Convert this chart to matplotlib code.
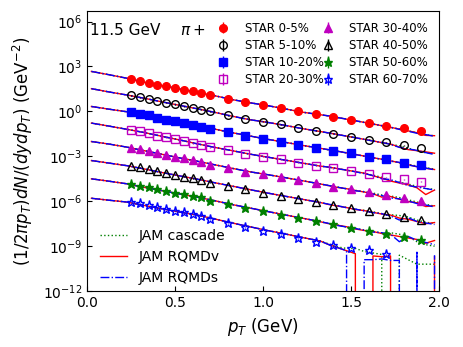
import numpy as np
import matplotlib
matplotlib.use('Agg')
import matplotlib.pyplot as plt
from matplotlib.ticker import NullLocator

# STAR pi+ spectra, Au+Au 11.5 GeV (values as log10)
pt_data = [0.25, 0.30, 0.35, 0.40, 0.45, 0.50, 0.55, 0.60, 0.65, 0.70,
           0.8, 0.9, 1.0, 1.1, 1.2, 1.3, 1.4, 1.5, 1.6, 1.7, 1.8, 1.9]

star_0_5 = [2.17, 2.01, 1.90, 1.78, 1.67, 1.56, 1.45, 1.34, 1.23, 1.11, 0.83,
            0.63, 0.44, 0.22, 0.00, -0.18, -0.34, -0.56, -0.74, -0.96, -1.12, -1.32]
star_5_10 = [1.07, 0.95, 0.83, 0.70, 0.59, 0.48, 0.35, 0.24, 0.12, 0.00, -0.27,
             -0.50, -0.68, -0.87, -1.10, -1.29, -1.48, -1.68, -1.88, -2.07, -2.27, -2.45]
star_10_20 = [-0.04, -0.16, -0.27, -0.43, -0.56, -0.67, -0.78, -0.89, -1.01, -1.15, -1.40,
              -1.63, -1.83, -2.01, -2.23, -2.41, -2.61, -2.79, -3.02, -3.19, -3.42, -3.59]
star_20_30 = [-1.23, -1.34, -1.45, -1.63, -1.74, -1.85, -1.97, -2.12, -2.23, -2.39, -2.57,
              -2.84, -3.02, -3.19, -3.42, -3.62, -3.79, -3.97, -4.17, -4.39, -4.53, -4.69]
star_30_40 = [-2.41, -2.50, -2.61, -2.79, -2.90, -3.01, -3.12, -3.24, -3.35, -3.57, -3.79,
              -4.02, -4.19, -4.39, -4.58, -4.80, -5.02, -5.20, -5.40, -5.60, -5.80, -5.96]
star_40_50 = [-3.64, -3.73, -3.84, -3.97, -4.09, -4.24, -4.35, -4.46, -4.58, -4.76, -4.98,
              -5.20, -5.43, -5.65, -5.85, -6.05, -6.25, -6.45, -6.68, -6.88, -7.05, -7.25]
star_50_60 = [-4.84, -4.96, -5.06, -5.20, -5.29, -5.43, -5.51, -5.63, -5.73, -5.95, -6.20,
              -6.42, -6.65, -6.89, -7.09, -7.32, -7.52, -7.77, -7.99, -8.19, -8.41, -8.59]
star_60_70 = [-6.03, -6.14, -6.25, -6.40, -6.52, -6.63, -6.74, -6.85, -6.97, -7.20,
              -7.47, -7.74, -7.99, -8.21, -8.48, -8.71, -8.93, -9.11, -9.26, -9.55]

# JAM model curves (log10). Low-pT part is common to the three modes,
# high-pT tails differ. Z marks empty bins (zero yield).
Z = -np.inf
pt_low = [0.025, 0.125, 0.225, 0.325, 0.425, 0.525, 0.625, 0.725, 0.825, 0.925,
          1.025, 1.125, 1.225, 1.325]
pt_tail = [1.375, 1.425, 1.475, 1.525, 1.575, 1.625, 1.675, 1.725, 1.775, 1.825,
           1.875, 1.925, 1.975]

jam_low = [
    [2.67, 2.45, 2.22, 1.95, 1.73, 1.50, 1.28, 1.05, 0.79, 0.58, 0.39, 0.17, -0.05, -0.22],
    [1.52, 1.30, 1.10, 0.88, 0.64, 0.41, 0.18, -0.06, -0.32, -0.55, -0.73, -0.93, -1.15, -1.34],
    [0.33, 0.15, -0.02, -0.22, -0.47, -0.70, -0.94, -1.18, -1.42, -1.64, -1.86, -2.06, -2.27, -2.46],
    [-0.78, -0.98, -1.19, -1.41, -1.66, -1.90, -2.16, -2.40, -2.62, -2.85, -3.05, -3.25, -3.45, -3.65],
    [-2.01, -2.18, -2.38, -2.62, -2.86, -3.10, -3.32, -3.56, -3.80, -4.03, -4.22, -4.42, -4.63, -4.84],
    [-3.28, -3.45, -3.62, -3.84, -4.08, -4.30, -4.52, -4.76, -4.99, -5.22, -5.45, -5.66, -5.87, -6.08],
    [-4.50, -4.66, -4.83, -5.07, -5.29, -5.51, -5.72, -5.96, -6.22, -6.45, -6.68, -6.91, -7.13, -7.36],
    [-5.80, -5.93, -6.05, -6.28, -6.50, -6.72, -6.92, -7.18, -7.45, -7.70, -7.95, -8.18, -8.42, -8.65],
]

cascade_tail = [
    [-0.31, -0.41, -0.52, -0.62, -0.73, -0.85, -0.95, -1.07, -1.17, -1.30, -1.42, -1.57, -1.62],
    [-1.45, -1.55, -1.64, -1.76, -1.86, -1.96, -2.10, -2.19, -2.30, -2.45, -2.62, -2.76, -2.82],
    [-2.57, -2.67, -2.76, -2.87, -2.98, -3.10, -3.20, -3.31, -3.43, -3.53, -3.65, -3.75, -3.85],
    [-3.73, -3.82, -3.93, -4.02, -4.14, -4.25, -4.40, -4.62, -4.72, -4.85, -5.00, -5.15, -5.20],
    [-4.96, -5.05, -5.16, -5.27, -5.36, -5.45, -5.58, -5.65, -5.75, -5.90, -6.05, -6.20, -6.32],
    [-6.21, -6.31, -6.41, -6.53, -6.60, -6.70, -6.82, -6.90, -6.95, -7.05, -7.25, -7.40, -7.48],
    [-7.50, -7.58, -7.72, -7.80, -7.92, -8.00, -8.12, -8.10, -8.20, -8.35, -8.70, -8.90, -9.00],
    [-8.85, -9.05, -9.15, -9.15, -9.35, -9.45, -9.55, Z, -9.60, -9.90, -10.2, -10.2, -10.2],
]
rqmdv_tail = [
    [-0.30, -0.41, -0.52, -0.62, -0.73, -0.84, -0.95, -1.06, -1.18, -1.30, -1.42, -1.60, -1.62],
    [-1.44, -1.54, -1.65, -1.76, -1.86, -1.97, -2.08, -2.18, -2.38, -2.55, -2.62, -2.70, -2.79],
    [-2.56, -2.66, -2.77, -2.87, -2.98, -3.09, -3.19, -3.30, -3.42, -3.55, -3.70, -3.80, -3.88],
    [-3.72, -3.82, -3.92, -4.02, -4.12, -4.30, -4.45, -4.65, -4.78, -4.90, -5.10, -5.55, -5.25],
    [-4.96, -5.08, -5.16, -5.28, -5.38, -5.50, -5.72, -5.68, -5.86, -6.02, -6.10, -6.35, -6.30],
    [-6.22, -6.32, -6.42, -6.55, -6.62, -6.74, -6.85, -6.92, -7.12, -7.20, -7.35, -7.50, -7.42],
    [-7.50, -7.60, -7.70, -7.85, -7.95, -8.02, -8.15, -8.25, -8.35, -8.45, -8.55, -8.80, -8.62],
    [-8.90, -9.10, -9.30, -9.50, Z, -9.65, -9.70, -9.65, Z, Z, Z, Z, -9.70],
]
rqmds_tail = [
    [-0.30, -0.41, -0.51, -0.62, -0.74, -0.84, -0.95, -1.05, -1.20, -1.32, -1.46, -1.55, -1.66],
    [-1.44, -1.55, -1.65, -1.75, -1.87, -1.98, -2.07, -2.20, -2.40, -2.50, -2.60, -2.75, -2.88],
    [-2.56, -2.66, -2.77, -2.88, -2.99, -3.08, -3.20, -3.32, -3.40, -3.58, -3.68, -3.78, -3.90],
    [-3.72, -3.83, -3.92, -4.03, -4.15, -4.28, -4.50, -4.55, -4.75, -4.95, -5.05, -5.15, -5.25],
    [-4.95, -5.06, -5.17, -5.30, -5.36, -5.52, -5.62, -5.78, -5.84, -5.98, -6.15, -6.25, -6.38],
    [-6.20, -6.30, -6.43, -6.52, -6.65, -6.76, -6.83, -6.98, -7.25, -7.10, -7.35, -7.45, -7.55],
    [-7.48, -7.62, -7.72, -7.82, -7.93, -8.05, -8.10, -8.20, -8.70, -8.35, -8.60, -8.75, -8.90],
    [-8.90, -9.10, -9.30, Z, -9.90, -9.90, -9.85, -9.95, -9.95, Z, -9.40, Z, -9.60],
]

labels = ['STAR 0-5%', 'STAR 5-10%', 'STAR 10-20%', 'STAR 20-30%',
          'STAR 30-40%', 'STAR 40-50%', 'STAR 50-60%', 'STAR 60-70%']
star = [star_0_5, star_5_10, star_10_20, star_20_30,
        star_30_40, star_40_50, star_50_60, star_60_70]
markers = ['o', 'o', 's', 's', '^', '^', '*', '*']
colors = ['r', 'k', 'b', 'm', 'm', 'k', 'g', 'b']
filled = [True, False, True, False, True, False, True, False]
err_frac = 0.05

fig, ax = plt.subplots(figsize=(4.63, 3.47), dpi=100)
fig.subplots_adjust(left=0.188, right=0.948, bottom=0.161, top=0.968)

pt_m = pt_low + pt_tail
for i in range(8):
    lab = i == 0
    y_c = 10.0 ** np.array(jam_low[i] + cascade_tail[i])
    y_v = 10.0 ** np.array(jam_low[i] + rqmdv_tail[i])
    y_s = 10.0 ** np.array(jam_low[i] + rqmds_tail[i])
    ax.plot(pt_m, y_c, 'g:', lw=1, label='JAM cascade' if lab else None)
    ax.plot(pt_m, y_v, 'r-', lw=1, label='JAM RQMDv' if lab else None)
    ax.plot(pt_m, y_s, 'b-.', lw=1, label='JAM RQMDs' if lab else None)

handles = []
for i in range(8):
    y = 10.0 ** np.array(star[i])
    x = pt_data[:len(y)]
    ms = 6.5 if markers[i] == '*' else 5.5
    h = ax.errorbar(x, y, yerr=err_frac * y, fmt=markers[i], color=colors[i],
                    mfc=colors[i] if filled[i] else 'none', ms=ms, mew=1,
                    elinewidth=1, zorder=5, label=labels[i])
    handles.append(h)

ax.set_yscale('log')
ax.set_xlim(0, 2.0)
ax.set_ylim(1e-12, 5e6)
ax.set_xticks([0.0, 0.5, 1.0, 1.5, 2.0])
ax.set_yticks([1e-12, 1e-9, 1e-6, 1e-3, 1e0, 1e3, 1e6])
ax.yaxis.set_minor_locator(NullLocator())
ax.tick_params(direction='in', which='both')
ax.set_xlabel(r'$p_T$ (GeV)', fontsize=12)
ax.set_ylabel(r'$(1/2\pi p_T)dN/(dydp_T)$ (GeV$^{-2}$)', fontsize=12, labelpad=6)

ax.text(0.008, 0.93, '11.5 GeV', transform=ax.transAxes, fontsize=11, va='center')
ax.text(0.264, 0.93, r'$\pi+$', transform=ax.transAxes, fontsize=11, va='center')

leg1 = ax.legend(handles=handles, loc='upper right', ncol=2, fontsize=8.5,
                 frameon=False, labelspacing=0.35, columnspacing=-0.6)
ax.add_artist(leg1)
line_handles = [l for l in ax.get_lines() if not l.get_label().startswith('_')][:3]
ax.legend(handles=line_handles, loc='lower left', bbox_to_anchor=(0.0, -0.022),
          frameon=False, fontsize=10)

fig.savefig('out.png', dpi=100)
